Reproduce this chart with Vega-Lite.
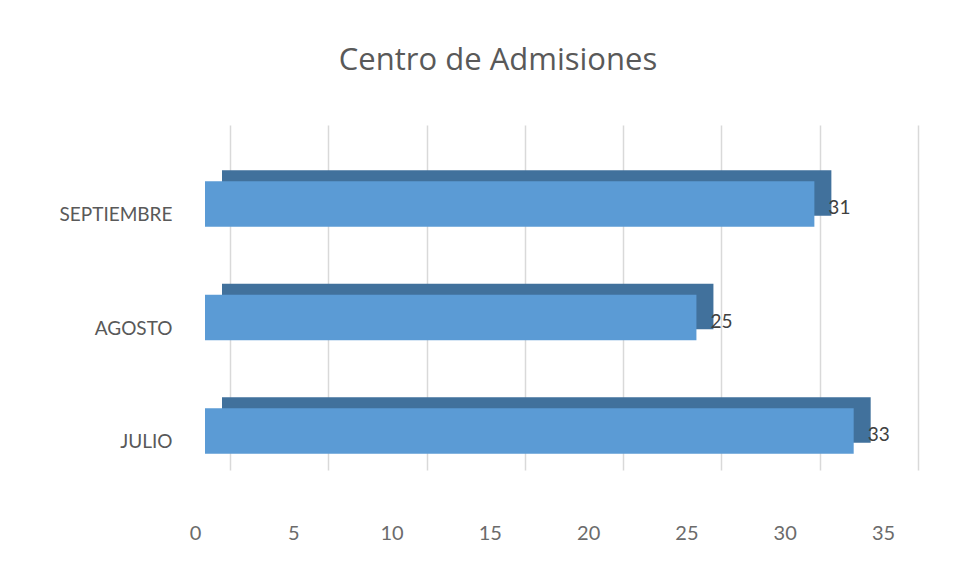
{
  "$schema": "https://vega.github.io/schema/vega-lite/v6.json",
  "autosize": {"type": "none"},
  "width": 688,
  "height": 345,
  "padding": {"left": 230, "top": 125, "right": 54, "bottom": 93},
  "background": "white",
  "config": {
    "view": {"stroke": null},
    "font": "Lato"
  },
  "title": {
    "text": "Centro de Admisiones",
    "fontSize": 31,
    "fontWeight": "normal",
    "color": "#595959",
    "font": "Open Sans",
    "anchor": "middle",
    "dx": -76,
    "offset": 17,
    "baseline": "bottom"
  },
  "data": {
    "values": [
      {"mes": "SEPTIEMBRE", "valor": 31},
      {"mes": "AGOSTO", "valor": 25},
      {"mes": "JULIO", "valor": 33}
    ]
  },
  "encoding": {
    "y": {
      "field": "mes",
      "type": "nominal",
      "sort": ["SEPTIEMBRE", "AGOSTO", "JULIO"],
      "scale": {"paddingInner": 0.6, "paddingOuter": 0.32},
      "axis": {
        "title": null,
        "ticks": false,
        "domain": false,
        "labelPadding": 58,
        "labelOffset": 31,
        "labelFontSize": 19,
        "labelColor": "#595959",
        "labelFont": "Lato"
      }
    },
    "x": {
      "field": "valor",
      "type": "quantitative",
      "scale": {"domain": [0, 35], "nice": false},
      "axis": {
        "title": null,
        "values": [0, 5, 10, 15, 20, 25, 30, 35],
        "ticks": false,
        "domain": false,
        "grid": true,
        "gridColor": "#d9d9d9",
        "gridWidth": 1.5,
        "labelFlush": false,
        "labelOverlap": false,
        "labelPadding": 53,
        "labelOffset": -35,
        "labelFontSize": 20,
        "labelColor": "#6b6b6b",
        "labelFont": "Lato"
      }
    }
  },
  "layer": [
    {
      "mark": {"type": "bar", "color": "#41719C", "xOffset": -8, "yOffset": 9}
    },
    {
      "mark": {"type": "bar", "color": "#5B9BD5", "xOffset": -25, "yOffset": 20}
    },
    {
      "mark": {"type": "text", "align": "left", "baseline": "middle", "dx": -11, "dy": 24, "fontSize": 19, "color": "#404040", "font": "Lato"},
      "encoding": {"text": {"field": "valor", "type": "quantitative"}}
    }
  ]
}
